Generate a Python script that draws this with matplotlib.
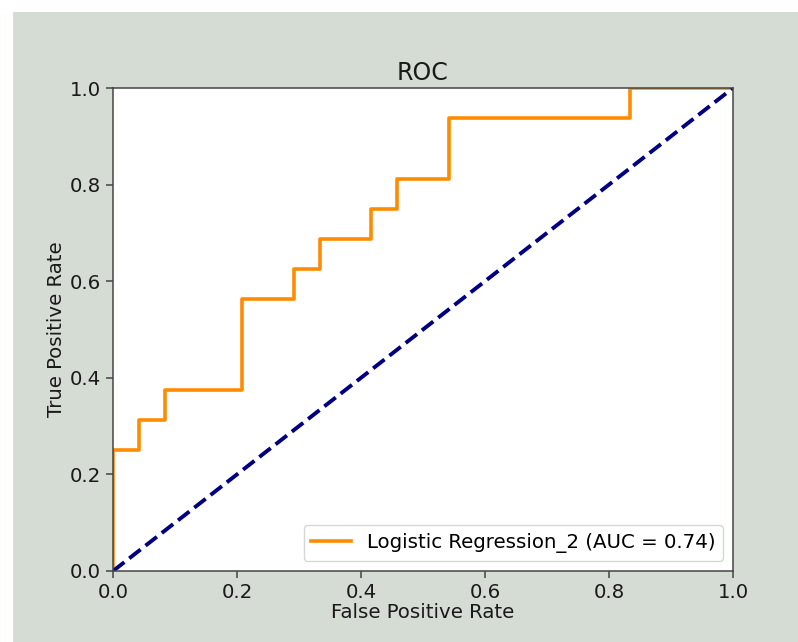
import matplotlib
matplotlib.use("Agg")
import matplotlib.pyplot as plt
from matplotlib.patches import Rectangle

# ROC curve points (steps of 1/24 and 1/16)
fpr = [0.0, 0.0, 1/24, 1/24, 2/24, 2/24, 5/24, 5/24, 7/24, 7/24, 8/24, 8/24,
       10/24, 10/24, 11/24, 11/24, 13/24, 13/24, 20/24, 20/24, 1.0]
tpr = [0.0, 0.25, 0.25, 0.3125, 0.3125, 0.375, 0.375, 0.5625, 0.5625, 0.625,
       0.625, 0.6875, 0.6875, 0.75, 0.75, 0.8125, 0.8125, 0.9375, 0.9375, 1.0, 1.0]
chance = [0.0, 1.0]
curve_label = "Logistic Regression_2 (AUC = 0.74)"

W, H = 798, 642
fig = plt.figure(figsize=(W / 100, H / 100), dpi=100)
fig.patch.set_facecolor("white")
# grey backdrop, white strip on top and left
fig.add_artist(Rectangle((13 / W, 0), 1 - 13 / W, 1 - 12 / H,
                         transform=fig.transFigure, facecolor="#d5dcd3",
                         edgecolor="none", zorder=-10))

ax = fig.add_axes([113 / W, 1 - 571 / H, 620 / W, 483 / H])
ax.plot(fpr, tpr, color="darkorange", lw=2.6, label=curve_label)
ax.plot(chance, chance, color="navy", lw=2.8, linestyle="--")
ax.set_xlim(0, 1)
ax.set_ylim(0, 1)
ax.set_xlabel("False Positive Rate", fontsize=14.2, color="#1a1a1a", labelpad=1)
ax.set_ylabel("True Positive Rate", fontsize=14.2, color="#1a1a1a", labelpad=2.5)
ax.set_title("ROC", fontsize=17, color="#1a1a1a")
ax.tick_params(labelsize=14.2, length=5, width=1.1, color="#444444",
               labelcolor="#1a1a1a")
for s in ax.spines.values():
    s.set_linewidth(1.1)
    s.set_edgecolor("#444444")
ax.legend(loc="lower right", fontsize=14.2)

fig.savefig("out.png", dpi=100, facecolor=fig.get_facecolor())
